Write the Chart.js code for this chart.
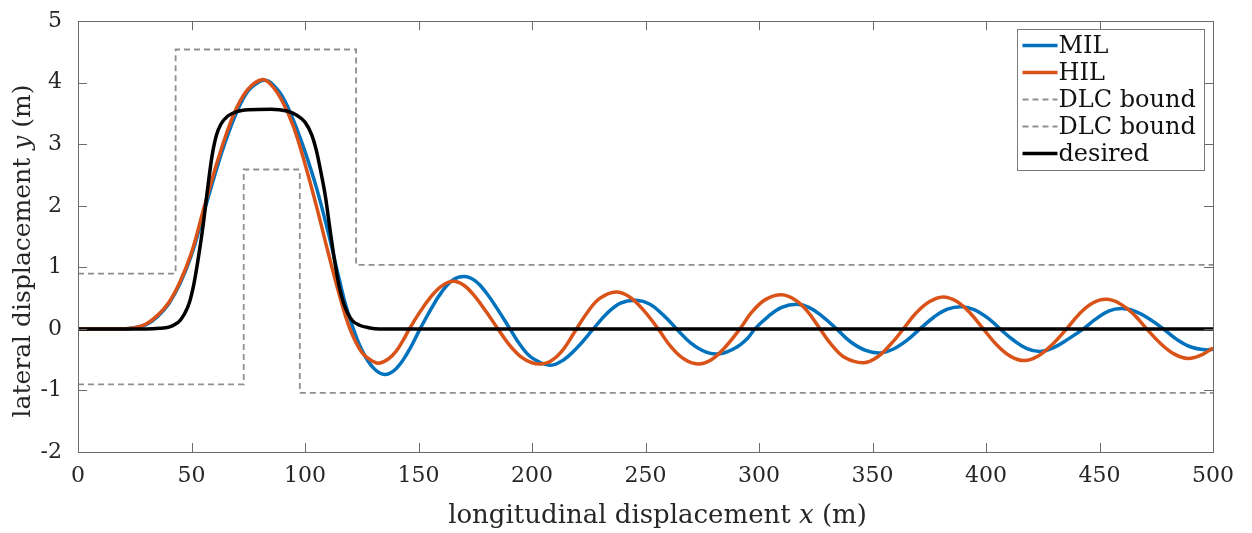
<!DOCTYPE html>
<html>
<head>
<meta charset="utf-8">
<script src="https://cdn.jsdelivr.net/npm/chart.js@4.4.1/dist/chart.umd.min.js"></script>
<style>
  html, body { margin: 0; padding: 0; background: #fff; }
  canvas { display: block; }
</style>
</head>
<body>
<canvas id="dlc" width="1252" height="533"></canvas>
<script>
// values (x in m, y in m)
const milX = [0, 20, 25, 30, 35, 40, 45, 50, 55, 60, 65, 70, 75, 80, 82.5, 85, 90, 95, 100, 105, 110, 115, 118, 121.3, 125, 130, 135, 140, 145, 150.7, 155, 160, 165, 170, 175, 180, 185, 190.3, 195, 200, 208, 214, 220, 227, 233, 239, 246, 252, 258, 263.7, 270, 277, 283.5, 290, 295, 298.2, 304, 310, 316.6, 322, 328, 334.2, 340, 347, 353.3, 359, 365, 370.9, 377, 383, 389.3, 395, 401, 406.2, 412, 418, 424, 430, 436, 442.9, 448, 454, 460, 466, 472, 478.1, 484, 490, 496.5, 500];
const milY = [0, 0, 0.02, 0.07, 0.2, 0.41, 0.74, 1.2, 1.83, 2.47, 3.05, 3.53, 3.87, 4.02, 4.04, 4.0, 3.78, 3.38, 2.88, 2.3, 1.6, 0.82, 0.38, 0, -0.34, -0.63, -0.74, -0.65, -0.4, 0, 0.29, 0.59, 0.79, 0.85, 0.78, 0.58, 0.31, 0, -0.27, -0.47, -0.59, -0.5, -0.3, 0, 0.25, 0.42, 0.465, 0.4, 0.22, 0, -0.23, -0.38, -0.4, -0.3, -0.15, 0, 0.2, 0.35, 0.4, 0.35, 0.2, 0, -0.2, -0.35, -0.39, -0.33, -0.19, 0, 0.19, 0.32, 0.36, 0.31, 0.17, 0, -0.18, -0.32, -0.365, -0.3, -0.17, 0, 0.15, 0.29, 0.33, 0.28, 0.16, 0, -0.17, -0.29, -0.34, -0.33];

const hilX = [0, 20, 25, 30, 35, 40, 45, 50, 55, 60, 65, 70, 75, 80.9, 85, 90, 95, 100, 105, 110, 115, 119.8, 125, 130, 133, 137, 140, 143, 146, 150, 155, 160, 165, 170, 175, 180, 185, 190, 195, 200, 204, 208, 213, 219.6, 225, 230, 237, 243, 249, 255.6, 261, 267, 273, 279, 285, 291.6, 297, 303, 310, 316, 321, 326.9, 332, 338, 346, 352, 358, 363.6, 369, 375, 381, 387, 393, 398.8, 405, 411, 417, 423, 429, 435.5, 441, 447, 453, 459, 465, 470.8, 477, 483, 489, 495, 500];
const hilY = [0, 0, 0.02, 0.08, 0.22, 0.43, 0.77, 1.24, 1.9, 2.55, 3.13, 3.6, 3.9, 4.05, 3.97, 3.7, 3.28, 2.68, 2.0, 1.27, 0.57, 0, -0.38, -0.53, -0.555, -0.48, -0.37, -0.2, 0, 0.24, 0.5, 0.69, 0.775, 0.71, 0.52, 0.27, 0, -0.26, -0.45, -0.55, -0.57, -0.53, -0.37, 0, 0.3, 0.5, 0.6, 0.52, 0.31, 0, -0.28, -0.49, -0.57, -0.5, -0.3, 0, 0.28, 0.48, 0.555, 0.47, 0.3, 0, -0.26, -0.47, -0.55, -0.46, -0.25, 0, 0.25, 0.44, 0.52, 0.45, 0.26, 0, -0.27, -0.45, -0.515, -0.44, -0.26, 0, 0.24, 0.42, 0.48, 0.41, 0.24, 0, -0.24, -0.41, -0.48, -0.42, -0.31];

const desX = [0, 30, 36, 40, 43, 45, 47, 49, 51, 53, 55, 57, 59, 61, 63, 66, 70, 75, 85, 92, 96, 100, 103, 105, 107, 109, 111, 113, 115, 117, 119, 121, 124, 128, 133, 500];
const desY = [0, 0, 0.01, 0.03, 0.08, 0.14, 0.25, 0.42, 0.72, 1.15, 1.65, 2.25, 2.8, 3.15, 3.33, 3.46, 3.53, 3.56, 3.57, 3.54, 3.48, 3.36, 3.15, 2.9, 2.55, 2.15, 1.62, 1.12, 0.7, 0.42, 0.24, 0.13, 0.06, 0.02, 0, 0];

const upperX = [0, 43, 43, 122.5, 122.5, 500];
const upperY = [0.9, 0.9, 4.54, 4.54, 1.04, 1.04];
const lowerX = [0, 73, 73, 97.7, 97.7, 500];
const lowerY = [-0.9, -0.9, 2.59, 2.59, -1.04, -1.04];

const xTicks = [0, 50, 100, 150, 200, 250, 300, 350, 400, 450, 500];
const yTicks = [-2, -1, 0, 1, 2, 3, 4, 5];

const seriesNames = ['MIL', 'HIL', 'DLC bound', 'DLC bound', 'desired'];

const pts = (xs, ys) => xs.map((x, i) => ({ x, y: ys[i] }));

const serif = "'DejaVu Serif', 'Liberation Serif', serif";
const axisColor = '#6b6b6b';
const textColor = '#262626';
const boundGray = '#8f8f8f';

// MATLAB style box with inward ticks, mixed-font axis titles and legend
const frame = {
  id: 'frame',
  afterDatasetsDraw(chart) {
    const { ctx, chartArea: a, scales: { x, y } } = chart;
    ctx.save();
    ctx.strokeStyle = axisColor;
    ctx.lineWidth = 1;
    ctx.strokeRect(Math.round(a.left) + 0.5, Math.round(a.top) + 0.5,
      Math.round(a.right - a.left), Math.round(a.bottom - a.top));

    const tl = 9;
    ctx.beginPath();
    x.ticks.forEach(t => {
      const px = Math.round(x.getPixelForValue(t.value)) + 0.5;
      ctx.moveTo(px, a.bottom); ctx.lineTo(px, a.bottom - tl);
      ctx.moveTo(px, a.top); ctx.lineTo(px, a.top + tl);
    });
    y.ticks.forEach(t => {
      const py = Math.round(y.getPixelForValue(t.value)) + 0.5;
      ctx.moveTo(a.left, py); ctx.lineTo(a.left + tl, py);
      ctx.moveTo(a.right, py); ctx.lineTo(a.right - tl, py);
    });
    ctx.stroke();

    // axis titles
    const drawParts = (parts, cx, cy) => {
      let total = 0;
      parts.forEach(p => { ctx.font = p.font; p.w = ctx.measureText(p.t).width; total += p.w; });
      let cur = cx - total / 2;
      ctx.textBaseline = 'alphabetic';
      ctx.textAlign = 'left';
      ctx.fillStyle = textColor;
      parts.forEach(p => { ctx.font = p.font; ctx.fillText(p.t, cur, cy); cur += p.w; });
    };
    const rf = '26px ' + serif, itf = 'italic 26px ' + serif;
    drawParts([
      { t: 'longitudinal displacement ', font: rf },
      { t: 'x', font: itf },
      { t: ' (m)', font: rf }
    ], (a.left + a.right) / 2 + 12, 523);

    const yf = '25px ' + serif, yif = 'italic 25px ' + serif;
    ctx.save();
    ctx.translate(30, 251);
    ctx.rotate(-Math.PI / 2);
    drawParts([
      { t: 'lateral displacement ', font: yf },
      { t: 'y', font: yif },
      { t: ' (m)', font: yf }
    ], 0, 0);
    ctx.restore();

    // legend
    const bw = 187, bh = 141;
    const bx = Math.round(a.right - 9 - bw) + 0.5, by = Math.round(a.top + 8) + 0.5;
    ctx.fillStyle = '#fff';
    ctx.fillRect(bx, by, bw, bh);
    ctx.strokeStyle = '#7a7a7a';
    ctx.lineWidth = 1;
    ctx.setLineDash([]);
    ctx.strokeRect(bx, by, bw, bh);
    ctx.font = '24px ' + serif;
    ctx.textBaseline = 'middle';
    chart.data.datasets.forEach((ds, i) => {
      const ry = by + 16 + i * 27;
      ctx.beginPath();
      ctx.strokeStyle = ds.borderColor;
      ctx.lineWidth = ds.borderWidth;
      ctx.setLineDash(ds.borderDash || []);
      ctx.moveTo(bx + 5, ry);
      ctx.lineTo(bx + 40, ry);
      ctx.stroke();
      ctx.setLineDash([]);
      ctx.fillStyle = '#111';
      ctx.fillText(ds.label, bx + 41, ry + 1);
    });
    ctx.restore();
  }
};

const curve = (label, data, color, width, order) => ({
  label, data, borderColor: color, borderWidth: width, order,
  pointRadius: 0, fill: false, tension: 0.4
});
const bound = (label, data, order) => ({
  label, data, borderColor: boundGray, borderWidth: 1.8, borderDash: [6, 4],
  order, pointRadius: 0, fill: false, tension: 0
});

const desired = curve(seriesNames[4], pts(desX, desY), '#000000', 3.5, 1);
desired.cubicInterpolationMode = 'monotone';

new Chart(document.getElementById('dlc'), {
  type: 'line',
  data: {
    datasets: [
      curve(seriesNames[0], pts(milX, milY), '#0072BD', 3.5, 3),
      curve(seriesNames[1], pts(hilX, hilY), '#D95319', 3.5, 2),
      bound(seriesNames[2], pts(upperX, upperY), 4),
      bound(seriesNames[3], pts(lowerX, lowerY), 5),
      desired
    ]
  },
  options: {
    responsive: false,
    animation: false,
    devicePixelRatio: 1,
    layout: { padding: { top: 16, right: 39, left: 0, bottom: 0 } },
    plugins: { legend: { display: false }, tooltip: { enabled: false } },
    scales: {
      x: {
        type: 'linear', min: 0, max: 500,
        afterBuildTicks: s => { s.ticks = xTicks.map(v => ({ value: v })); },
        afterFit: s => { s.height = 81; },
        grid: { display: false },
        border: { display: false },
        ticks: { color: textColor, padding: 3, font: { family: serif, size: 22 } }
      },
      y: {
        type: 'linear', min: -2, max: 5,
        afterBuildTicks: s => { s.ticks = yTicks.map(v => ({ value: v })); },
        afterFit: s => { s.width = 78; },
        grid: { display: false },
        border: { display: false },
        ticks: { color: textColor, padding: 8, font: { family: serif, size: 22 } }
      }
    }
  },
  plugins: [frame]
});
</script>
</body>
</html>
